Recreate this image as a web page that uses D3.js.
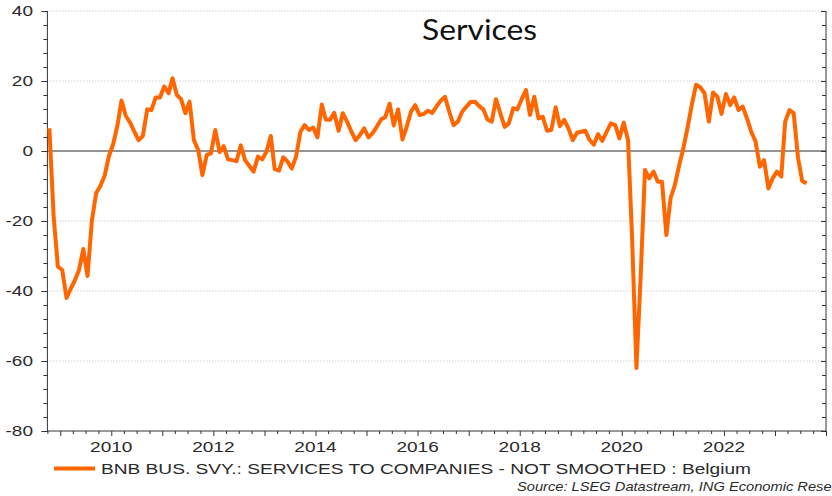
<!DOCTYPE html>
<html>
<head>
<meta charset="utf-8">
<script src="https://cdn.jsdelivr.net/npm/d3@7"></script>
<style>
  html, body { margin: 0; padding: 0; background: #fff; }
  svg { display: block; }
</style>
</head>
<body>
<svg id="chart" width="832" height="496"></svg>
<script>
// ---------------- DATA ----------------
const titleText = "Services";
const legendText = "BNB BUS. SVY.: SERVICES TO COMPANIES - NOT SMOOTHED : Belgium";
const sourceText = "Source: LSEG Datastream, ING Economic Research";
const startYear = 2008, startMonth = 10; // first observation: Oct 2008 (monthly)
const v2008 = [6.5, -19, -33];
const v2009 = [-34, -42, -39.5, -37, -34, -28, -35.7, -20, -12, -10, -7, -1.5];
const v2010 = [2, 7.5, 14.4, 10, 8.2, 5.5, 3.1, 4.3, 11.9, 11.7, 15.3, 15.3];
const v2011 = [18.4, 16.5, 20.8, 16, 14.8, 10.8, 14.1, 3.1, 0.3, -6.9, -1.1, -0.7];
const v2012 = [6, -0.3, 1.4, -2.4, -2.6, -2.9, 1.6, -2.6, -4.3, -5.9, -1.6, -2.4];
const v2013 = [-0.2, 4.3, -5.2, -5.6, -1.8, -3, -5, -1.6, 5.5, 7.4, 6, 6.7];
const v2014 = [3.9, 13.3, 9, 8.9, 10.9, 5.8, 10.8, 8.4, 5.5, 3.1, 4.6, 6.5];
const v2015 = [3.9, 5.2, 6.9, 9, 9.7, 13.5, 7.3, 11.9, 3.3, 6.9, 11.2, 13.1];
const v2016 = [10.3, 10.6, 11.5, 10.9, 12.7, 14.4, 15.5, 11.2, 7.4, 8.4, 11.2, 12.7];
const v2017 = [14, 14.1, 12.9, 11.9, 9, 8.4, 14.8, 10.8, 6.9, 7.9, 12.2, 11.9];
const v2018 = [14.8, 17.4, 10.3, 15.5, 9.3, 9.8, 5.8, 6, 12.5, 7.1, 8.9, 6.5];
const v2019 = [3.1, 5.2, 5.5, 5.8, 3.2, 1.8, 4.8, 2.9, 5.5, 7.9, 7.4, 3.6];
const v2020 = [8.1, 3.1, -25, -62, -36, -5.4, -7.8, -5.9, -8.8, -8.8, -24, -13.5];
const v2021 = [-9.7, -4, 0.5, 6.5, 13, 18.9, 18.2, 16.5, 8.4, 16.7, 15.5, 10.6];
const v2022 = [16.3, 13.1, 15.3, 11.7, 12.7, 9.3, 5.5, 2.7, -4.5, -2.6, -10.7, -7.8];
const v2023 = [-5.9, -7.3, 8.4, 11.7, 10.8, -2, -8.6, -9.2];
const yTickLabels = [40, 20, 0, -20, -40, -60, -80];
const xTickYears = [2010, 2012, 2014, 2016, 2018, 2020, 2022];

// ---------------- BUILD SERIES ----------------
const allValues = [].concat(v2008, v2009, v2010, v2011, v2012, v2013, v2014, v2015,
  v2016, v2017, v2018, v2019, v2020, v2021, v2022, v2023);
const series = allValues.map((v, i) => ({
  date: new Date(startYear, startMonth - 1 + i, 15),
  value: v
}));

// ---------------- LAYOUT ----------------
const svg = d3.select("#chart");
const pL = 47.4, pR = 826, pT = 11, pB = 431;
const x = d3.scaleTime()
  .domain([new Date(2008, 9, 1), new Date(2024, 0, 1)])
  .range([pL, pR]);
const y = d3.scaleLinear().domain([-80, 40]).range([pB, pT]);
const FONT = "'Liberation Sans', Arial, sans-serif";
const SX = 1.27;

// gridlines
svg.append("g").selectAll("line")
  .data(yTickLabels.filter(d => d !== 0 && d !== -80))
  .join("line")
  .attr("x1", pL).attr("x2", pR)
  .attr("y1", d => y(d)).attr("y2", d => y(d))
  .attr("stroke", "#b8b8b8").attr("stroke-width", 1)
  .attr("stroke-dasharray", "1,2");

// zero line
svg.append("line")
  .attr("x1", pL).attr("x2", pR)
  .attr("y1", y(0)).attr("y2", y(0))
  .attr("stroke", "#707070").attr("stroke-width", 1.5);

// left axis
const leftAxis = d3.axisLeft(y).tickValues(d3.range(-80, 41, 4)).tickSize(4).tickFormat("");
const gl = svg.append("g").attr("transform", `translate(${pL},0)`).call(leftAxis);
gl.select(".domain").remove();
gl.selectAll(".tick line").attr("stroke", "#333")
  .attr("x2", d => (d % 20 === 0 ? -6 : -4));
svg.append("line").attr("x1", pL).attr("x2", pL).attr("y1", pT).attr("y2", pB + 1)
  .attr("stroke", "#333").attr("stroke-width", 1);

// left labels
svg.append("g").selectAll("text")
  .data(yTickLabels)
  .join("text")
  .attr("transform", d => `translate(33,${y(d) + 5.2}) scale(${SX},1)`)
  .attr("text-anchor", "end")
  .attr("font-family", FONT).attr("font-size", 15).attr("fill", "#2a2a2a")
  .text(d => d);

// right axis (ticks pointing inward)
const rightAxis = d3.axisRight(y).tickValues(d3.range(-80, 41, 4)).tickSize(0).tickFormat("");
const gr = svg.append("g").attr("transform", `translate(${pR},0)`).call(rightAxis);
gr.select(".domain").remove();
gr.selectAll(".tick line").attr("stroke", "#333")
  .attr("x2", d => (d % 20 === 0 ? -5 : -4));
svg.append("line").attr("x1", pR).attr("x2", pR).attr("y1", pT).attr("y2", pB)
  .attr("stroke", "#333").attr("stroke-width", 1);

// bottom axis: quarterly ticks, longer at years
const qTicks = d3.timeMonth.every(3).range(new Date(2008, 9, 1), new Date(2024, 0, 2));
const bottomAxis = d3.axisBottom(x).tickValues(qTicks).tickSize(3).tickFormat("");
const gb = svg.append("g").attr("transform", `translate(0,${pB})`).call(bottomAxis);
gb.select(".domain").remove();
gb.selectAll(".tick line").attr("stroke", "#333")
  .attr("y2", d => (d.getMonth() === 0 ? 5 : 3));
svg.append("line").attr("x1", pL).attr("x2", pR).attr("y1", pB).attr("y2", pB)
  .attr("stroke", "#333").attr("stroke-width", 1);

// year labels
svg.append("g").selectAll("text")
  .data(xTickYears)
  .join("text")
  .attr("transform", d => `translate(${x(new Date(d, 0, 1))},451.7) scale(${SX},1)`)
  .attr("text-anchor", "middle")
  .attr("font-family", FONT).attr("font-size", 15).attr("fill", "#2a2a2a")
  .text(d => d);

// series line
const line = d3.line().x(d => x(d.date)).y(d => y(d.value));
svg.append("path")
  .datum(series)
  .attr("d", line)
  .attr("fill", "none")
  .attr("stroke", "#ff6600")
  .attr("stroke-width", 4)
  .attr("stroke-linejoin", "round")
  .attr("stroke-linecap", "butt");

// title
svg.append("text")
  .attr("x", 422).attr("y", 39.5)
  .attr("font-family", "Lato, 'Open Sans', sans-serif")
  .attr("font-size", 29).attr("fill", "#111")
  .attr("textLength", 115).attr("lengthAdjust", "spacingAndGlyphs")
  .text(titleText);

// legend
svg.append("line")
  .attr("x1", 54).attr("x2", 95).attr("y1", 468.5).attr("y2", 468.5)
  .attr("stroke", "#ff6600").attr("stroke-width", 4);
svg.append("text")
  .attr("x", 101).attr("y", 474)
  .attr("font-family", FONT).attr("font-size", 15).attr("fill", "#2a2a2a")
  .attr("textLength", 650).attr("lengthAdjust", "spacingAndGlyphs")
  .text(legendText);

// source (clipped at right edge as in reference)
const src = svg.append("text")
  .attr("font-family", FONT).attr("font-size", 12).attr("font-style", "italic")
  .attr("fill", "#2a2a2a")
  .text("Source: LSEG Datastream, ING Economic Rese");
const visW = src.node().getComputedTextLength();
const sSX = 315 / visW;
src.attr("transform", `translate(517,491) scale(${sSX},1)`).text(sourceText);
</script>
</body>
</html>
